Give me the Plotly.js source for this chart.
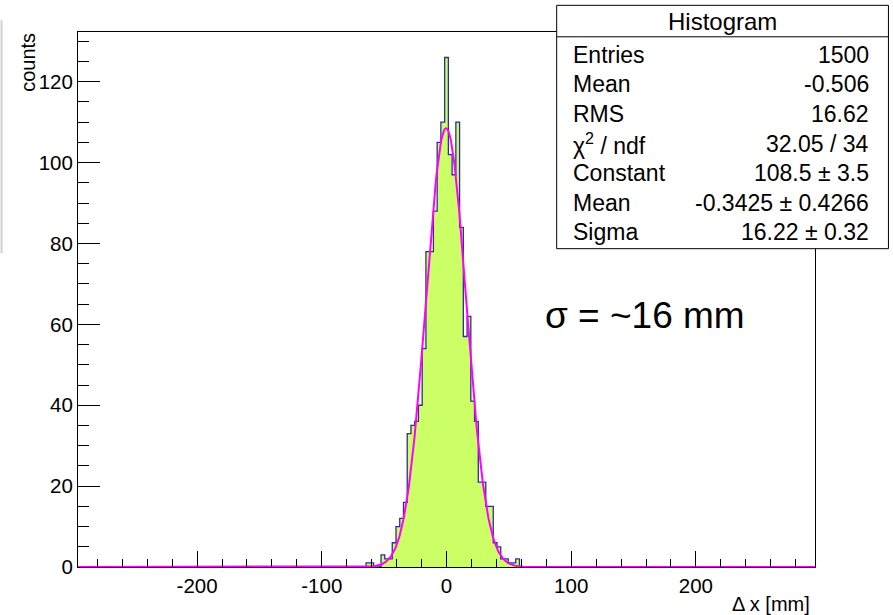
<!DOCTYPE html>
<html>
<head>
<meta charset="utf-8">
<script src="https://cdn.plot.ly/plotly-3.0.1.min.js"></script>
<style>
  html, body { margin: 0; padding: 0; background: #fff; }
  #chart { width: 893px; height: 615px; }
</style>
</head>
<body>
<div id="chart"></div>
<script>
// ---- data ----
const binCenters = [-63,-60,-57,-54,-51,-48,-45,-42,-39,-36,-33,-30,-27,-24,-21,-18,-15,-12,-9,-6,-3,
                    0,3,6,9,12,15,18,21,24,27,30,33,36,39,42,45,48,51,54,57];
const counts     = [1,1,0,0,3,2,2,6,10,12,16,33,35,36,40,54,78,78,88,105,110,
                    126,102,97,110,84,57,62,41,36,21,21,15,15,6,5,2,2,1,1,2];
const binWidth = 3;
const xRange = [-295.5, 295.5];
const yMax = 132.3;

// fit parameters (from stats box)
const fitConstant = 108.5;
const fitMean = -0.3425;
const fitSigma = 16.22;

const statsLabels = ["Entries", "Mean", "RMS", "χ<sup>2</sup> / ndf", "Constant", "Mean", "Sigma"];
const statsValues = ["1500", "-0.506", "16.62", "32.05 / 34", "108.5 ± 3.5", "-0.3425 ± 0.4266", "16.22 ± 0.32"];

const xTickVals = [-200, -100, 0, 100, 200];
const yTickVals = [0, 20, 40, 60, 80, 100, 120];

// ---- build traces ----
const sx = [xRange[0]], sy = [0];
sx.push(binCenters[0] - binWidth / 2); sy.push(0);
for (let i = 0; i < binCenters.length; i++) {
  const lo = binCenters[i] - binWidth / 2, hi = binCenters[i] + binWidth / 2;
  sx.push(lo, hi); sy.push(counts[i], counts[i]);
}
sx.push(binCenters[binCenters.length - 1] + binWidth / 2); sy.push(0);
sx.push(xRange[1]); sy.push(0);

const fitX = [], fitY = [];
for (let x = xRange[0]; x <= xRange[1]; x += 0.5) {
  fitX.push(x);
  fitY.push(fitConstant * Math.exp(-0.5 * Math.pow((x - fitMean) / fitSigma, 2)));
}

const FONT = "Liberation Sans, Arial, Helvetica, sans-serif";

const traces = [
  { type: "bar", x: binCenters, y: counts, width: binWidth,
    marker: { color: "#ccff66", line: { width: 0 } }, hoverinfo: "skip" },
  { type: "scatter", mode: "lines", x: sx, y: sy,
    line: { color: "#2e2e96", width: 1.3, shape: "linear" }, hoverinfo: "skip" },
  { type: "scatter", mode: "lines", x: fitX, y: fitY,
    line: { color: "#ff00ff", width: 2 }, hoverinfo: "skip" }
];

const W = 893, H = 615;
const mL = 77.5, mR = 78, mT = 31.7, mB = 48;
const plotW = W - mL - mR, plotH = H - mT - mB;
const PX = (px) => (px - mL) / plotW;
const PY = (py) => 1 - (py - mT) / plotH;

const boxL = 556.5, boxR = 888.5, boxT = 5, boxB = 248.5, headB = 36.5;

const layout = {
  width: W, height: H,
  margin: { l: mL, r: mR, t: mT, b: mB, pad: 0 },
  paper_bgcolor: "#fff", plot_bgcolor: "#fff",
  showlegend: false,
  bargap: 0,
  font: { family: FONT, size: 20, color: "#000" },
  xaxis: {
    range: xRange, tickvals: xTickVals, ticktext: xTickVals.map(String),
    ticks: "inside", ticklen: 16, tickwidth: 1, tickcolor: "#000",
    minor: { dtick: 20, tick0: 0, ticks: "inside", ticklen: 8, tickcolor: "#000", tickwidth: 1 },
    showgrid: false, zeroline: false,
    showline: true, linecolor: "#000", linewidth: 1, mirror: true,
    tickfont: { family: FONT, size: 20.5, color: "#000" }
  },
  yaxis: {
    range: [0, yMax], tickvals: yTickVals, ticktext: yTickVals.map(String),
    ticks: "inside", ticklen: 22, tickwidth: 1, tickcolor: "#000",
    minor: { dtick: 5, tick0: 0, ticks: "inside", ticklen: 11, tickcolor: "#000", tickwidth: 1 },
    showgrid: false, zeroline: false,
    showline: true, linecolor: "#000", linewidth: 1, mirror: true,
    tickfont: { family: FONT, size: 20.5, color: "#000" }
  },
  shapes: [
    { type: "line", xref: "paper", yref: "paper", x0: PX(1), x1: PX(1), y0: PY(20), y1: PY(253),
      line: { color: "#d0d0d0", width: 2 } },
    { type: "rect", xref: "paper", yref: "paper", x0: PX(boxL), x1: PX(boxR), y0: PY(boxB), y1: PY(boxT),
      fillcolor: "#fff", line: { color: "#000", width: 1 }, layer: "above" },
    { type: "line", xref: "paper", yref: "paper", x0: PX(boxL), x1: PX(boxR), y0: PY(headB), y1: PY(headB),
      line: { color: "#000", width: 1 }, layer: "above" }
  ],
  annotations: []
};

layout.annotations.push({
  xref: "paper", yref: "paper", x: PX((boxL + boxR) / 2), y: PY(21), xanchor: "center", yanchor: "middle",
  text: "Histogram", showarrow: false, font: { family: FONT, size: 24, color: "#000" }
});
const rowY0 = 54.5, rowDY = 29.6;
for (let i = 0; i < statsLabels.length; i++) {
  const y = PY(rowY0 + i * rowDY);
  layout.annotations.push({
    xref: "paper", yref: "paper", x: PX(571), y: y, xanchor: "left", yanchor: "middle",
    text: statsLabels[i], showarrow: false, font: { family: FONT, size: 23, color: "#000" }
  });
  layout.annotations.push({
    xref: "paper", yref: "paper", x: PX(871), y: y, xanchor: "right", yanchor: "middle",
    text: statsValues[i], showarrow: false, font: { family: FONT, size: 23, color: "#000" }
  });
}
layout.annotations.push({
  xref: "paper", yref: "paper", x: PX(543), y: PY(315), xanchor: "left", yanchor: "middle",
  text: "σ = ~16 mm", showarrow: false, font: { family: FONT, size: 37, color: "#000" }
});
layout.annotations.push({
  xref: "paper", yref: "paper", x: PX(812), y: PY(604), xanchor: "right", yanchor: "middle",
  text: "Δ x [mm]", showarrow: false, font: { family: FONT, size: 20, color: "#000" }
});
layout.annotations.push({
  xref: "paper", yref: "paper", x: PX(28), y: PY(62), xanchor: "center", yanchor: "middle",
  text: "counts", textangle: -90, showarrow: false, font: { family: FONT, size: 20, color: "#000" }
});

Plotly.newPlot("chart", traces, layout, { staticPlot: true, displayModeBar: false });
</script>
</body>
</html>
